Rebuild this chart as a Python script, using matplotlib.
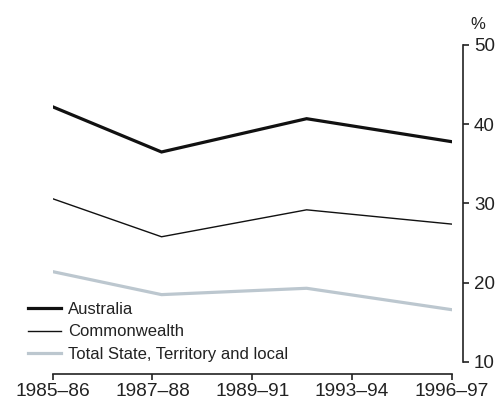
import numpy as np
import matplotlib
matplotlib.use('Agg')
from matplotlib import pyplot as plt

# years of the survey points (start year of the financial year)
anos = [1985, 1988, 1992, 1996]
australia = [42.2, 36.5, 40.7, 37.8]
commonwealth = [30.6, 25.8, 29.2, 27.4]
estadual = [21.4, 18.5, 19.3, 16.6]

rotulos = ['1985–86', '1987–88', '1989–91', '1993–94', '1996–97']
ticks_y = [10, 20, 30, 40, 50]

plt.rcParams['font.family'] = ['Liberation Sans', 'DejaVu Sans']
cor_texto = '#222222'

fig = plt.figure(figsize=(5, 4.01), dpi=100)
ax = fig.add_axes([0.1054, 0.0973, 0.798, 0.7905])

ax.plot(anos, australia, color='#111111', lw=2.3, label='Australia', solid_joinstyle='miter')
ax.plot(anos, commonwealth, color='#111111', lw=1.0, label='Commonwealth')
ax.plot(anos, estadual, color='#bcc7cf', lw=2.3, label='Total State, Territory and local')

ax.set_xlim(anos[0], anos[-1])
ax.set_ylim(10, 50)
ax.set_xticks(np.linspace(anos[0], anos[-1], len(rotulos)))
ax.set_xticklabels(rotulos)
ax.set_yticks(ticks_y)

ax.spines['top'].set_visible(False)
ax.spines['left'].set_visible(False)
ax.spines['right'].set_position(('outward', 8))
ax.spines['bottom'].set_position(('outward', 9))
for s in ['right', 'bottom']:
    ax.spines[s].set_color(cor_texto)
    ax.spines[s].set_linewidth(1.2)

ax.yaxis.tick_right()
ax.tick_params(axis='y', direction='out', length=4, width=1.2, pad=4,
               labelsize=13.5, colors=cor_texto)
ax.tick_params(axis='x', direction='out', length=4, width=1.2, pad=2,
               labelsize=13.8, colors=cor_texto)

fig.text(0.956, 0.94, '%', ha='center', va='center', fontsize=12, color=cor_texto)

leg = ax.legend(loc='upper left', bbox_to_anchor=(0.056, 0.247),
                bbox_transform=fig.transFigure, frameon=False,
                borderpad=0, borderaxespad=0, handlelength=2.0,
                handletextpad=0.4, labelspacing=0.45, fontsize=12)
for t in leg.get_texts():
    t.set_color(cor_texto)

fig.savefig('out.png', dpi=100)
